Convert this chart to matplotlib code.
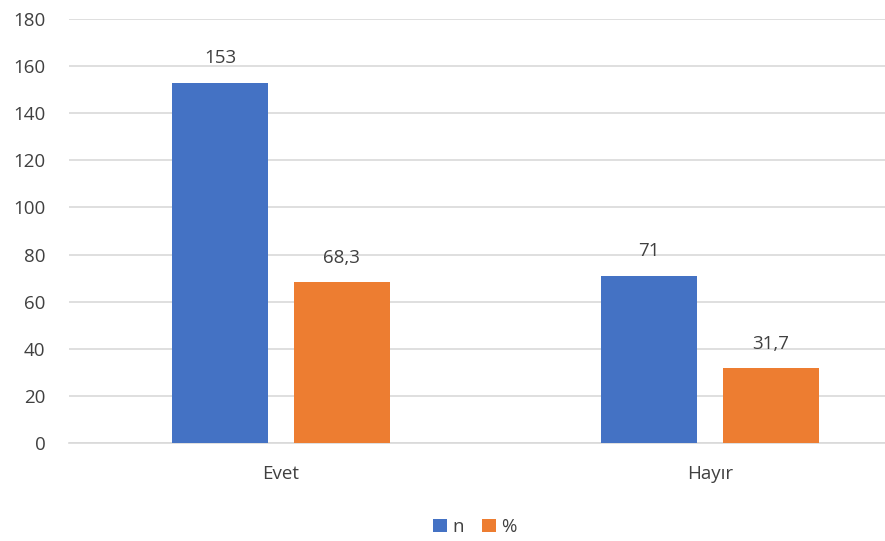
import matplotlib.pyplot as plt
import numpy as np

categories = ["Evet", "Hayır"]
n_values = [153, 71]
pct_values = [68.3, 31.7]
n_labels = ["153", "71"]
pct_labels = ["68,3", "31,7"]
yticks = [0, 20, 40, 60, 80, 100, 120, 140, 160, 180]

BLUE = "#4472C4"
ORANGE = "#ED7D31"
GRID = "#D9D9D9"
TXT = "#404040"

plt.rcParams['font.family'] = ['Open Sans', 'DejaVu Sans']

fig = plt.figure(figsize=(8.85, 5.41), dpi=100)
# axes runs past the right edge, like the cropped original
ax = fig.add_axes([69 / 885, 98 / 541, 870 / 885, 424 / 541])

x = np.arange(len(categories))
w = 0.224
off = 0.142
b1 = ax.bar(x - off, n_values, w, color=BLUE, label="n", zorder=3)
b2 = ax.bar(x + off, pct_values, w, color=ORANGE, label="%", zorder=3)

for bars, labs in ((b1, n_labels), (b2, pct_labels)):
    for rect, lab in zip(bars, labs):
        ax.annotate(lab, (rect.get_x() + rect.get_width() / 2, rect.get_height()),
                    xytext=(0, 11), textcoords="offset points", ha="center", va="bottom",
                    fontsize=13.5, color=TXT)

ax.set_xlim(-0.494, -0.494 + 870 / 429)
ax.set_ylim(0, 180)
ax.set_yticks(yticks)
ax.set_xticks(x)
ax.set_xticklabels(categories)
ax.tick_params(axis="both", length=0, labelsize=13.5, colors=TXT)
ax.tick_params(axis="x", pad=16)
ax.tick_params(axis="y", pad=17)
ax.yaxis.grid(True, color=GRID, linewidth=1.2, zorder=0)
for s in ["top", "right", "left"]:
    ax.spines[s].set_visible(False)
ax.spines["bottom"].set_color(GRID)
ax.spines["bottom"].set_linewidth(1.2)

fig.legend(loc="center", bbox_to_anchor=(475 / 885, 1 - 527 / 541), ncol=2, frameon=False,
           fontsize=13.5, handlelength=0.7, handleheight=0.7, handletextpad=0.3,
           columnspacing=1.0, labelcolor=TXT)

fig.savefig("out.png", dpi=100)
